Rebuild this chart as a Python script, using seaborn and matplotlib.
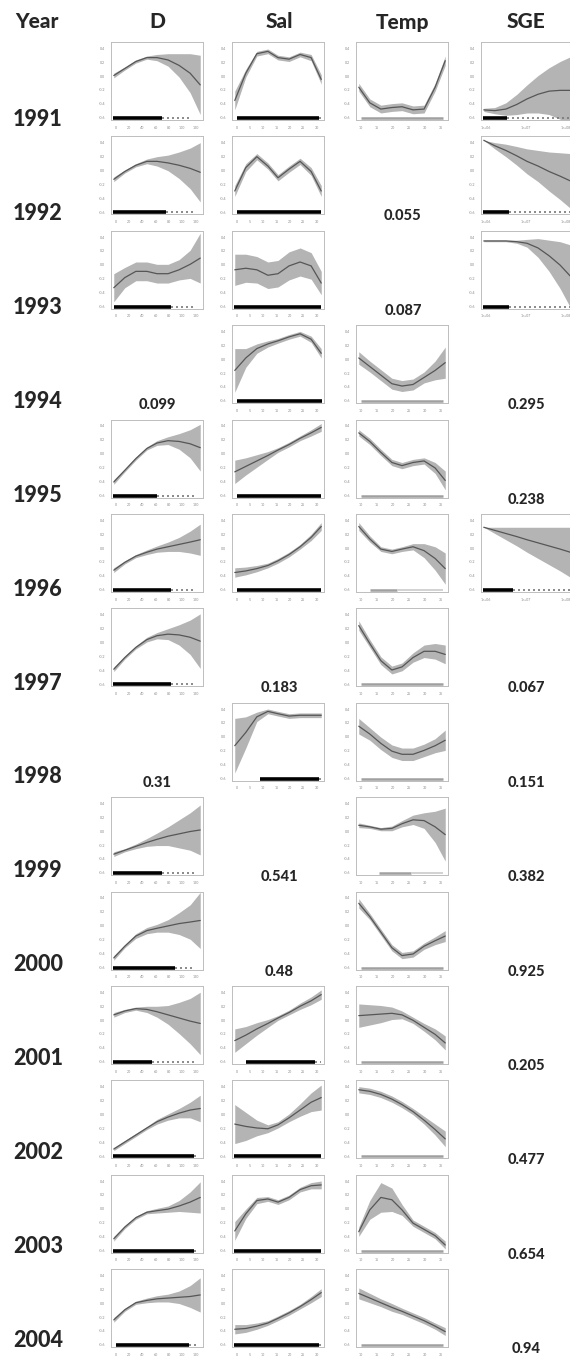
import numpy as np
import pandas as pd
import matplotlib
matplotlib.use("Agg")
import matplotlib.pyplot as plt
import seaborn as sns

# ---------------- data ----------------
YEARS = list(range(1991, 2005))
VARIABLES = ["D", "Sal", "Temp", "SGE"]
X_GRID = [0.03, 0.15, 0.27, 0.39, 0.50, 0.62, 0.74, 0.86, 0.97]

D_FIT = {
    1991: [0.57, 0.66, 0.75, 0.80, 0.80, 0.77, 0.70, 0.60, 0.45],
    1992: [0.45, 0.55, 0.63, 0.68, 0.68, 0.66, 0.63, 0.59, 0.54],
    1993: [0.27, 0.40, 0.48, 0.48, 0.45, 0.45, 0.50, 0.57, 0.65],
    1995: [0.20, 0.35, 0.50, 0.63, 0.70, 0.73, 0.72, 0.69, 0.64],
    1996: [0.28, 0.38, 0.46, 0.51, 0.55, 0.58, 0.61, 0.64, 0.67],
    1997: [0.22, 0.37, 0.50, 0.60, 0.65, 0.67, 0.66, 0.63, 0.58],
    1999: [0.27, 0.32, 0.37, 0.42, 0.46, 0.50, 0.53, 0.56, 0.58],
    2000: [0.15, 0.30, 0.43, 0.50, 0.53, 0.56, 0.59, 0.61, 0.63],
    2001: [0.63, 0.68, 0.71, 0.70, 0.67, 0.63, 0.59, 0.55, 0.52],
    2002: [0.12, 0.21, 0.30, 0.39, 0.47, 0.53, 0.58, 0.62, 0.64],
    2003: [0.18, 0.33, 0.45, 0.52, 0.54, 0.56, 0.60, 0.65, 0.71],
    2004: [0.35, 0.48, 0.57, 0.60, 0.62, 0.63, 0.64, 0.65, 0.67],
}
D_BAND = {
    1991: [0.03, 0.02, 0.02, 0.02, 0.04, 0.08, 0.15, 0.25, 0.38],
    1992: [0.03, 0.02, 0.02, 0.03, 0.06, 0.10, 0.17, 0.26, 0.38],
    1993: [0.18, 0.13, 0.12, 0.12, 0.12, 0.12, 0.13, 0.18, 0.32],
    1995: [0.03, 0.02, 0.02, 0.02, 0.03, 0.05, 0.10, 0.18, 0.30],
    1996: [0.03, 0.02, 0.02, 0.03, 0.04, 0.06, 0.09, 0.14, 0.20],
    1997: [0.03, 0.02, 0.02, 0.03, 0.04, 0.07, 0.13, 0.22, 0.35],
    1999: [0.03, 0.02, 0.03, 0.05, 0.08, 0.12, 0.18, 0.24, 0.32],
    2000: [0.03, 0.02, 0.03, 0.04, 0.05, 0.08, 0.14, 0.22, 0.36],
    2001: [0.03, 0.02, 0.02, 0.04, 0.07, 0.12, 0.20, 0.29, 0.40],
    2002: [0.02, 0.02, 0.02, 0.02, 0.03, 0.04, 0.06, 0.10, 0.17],
    2003: [0.03, 0.02, 0.02, 0.02, 0.03, 0.04, 0.07, 0.13, 0.20],
    2004: [0.03, 0.02, 0.02, 0.03, 0.04, 0.05, 0.08, 0.14, 0.22],
}
D_RUG = {
    1991: (0.02, 0.55, 0.85), 1992: (0.02, 0.60, 0.90), 1993: (0.03, 0.65, 0.90),
    1995: (0.02, 0.50, 0.90), 1996: (0.02, 0.65, 0.90), 1997: (0.02, 0.65, 0.90),
    1999: (0.02, 0.55, 0.90), 2000: (0.02, 0.70, 0.90), 2001: (0.02, 0.45, 0.90),
    2002: (0.02, 0.90, 0.95), 2003: (0.02, 0.90, 0.95), 2004: (0.05, 0.85, 0.95),
}

SAL_FIT = {
    1991: [0.25, 0.60, 0.85, 0.88, 0.80, 0.78, 0.84, 0.80, 0.52],
    1992: [0.30, 0.60, 0.74, 0.62, 0.47, 0.58, 0.68, 0.55, 0.30],
    1993: [0.50, 0.52, 0.50, 0.43, 0.45, 0.55, 0.60, 0.55, 0.33],
    1994: [0.42, 0.58, 0.70, 0.76, 0.80, 0.85, 0.89, 0.82, 0.64],
    1995: [0.33, 0.40, 0.47, 0.54, 0.61, 0.68, 0.76, 0.83, 0.90],
    1996: [0.25, 0.27, 0.30, 0.34, 0.40, 0.48, 0.58, 0.70, 0.84],
    1998: [0.45, 0.62, 0.82, 0.89, 0.86, 0.83, 0.84, 0.84, 0.84],
    2001: [0.30, 0.37, 0.45, 0.52, 0.59, 0.66, 0.74, 0.81, 0.89],
    2002: [0.44, 0.41, 0.39, 0.38, 0.43, 0.52, 0.62, 0.72, 0.78],
    2003: [0.28, 0.50, 0.67, 0.69, 0.65, 0.71, 0.81, 0.86, 0.87],
    2004: [0.23, 0.24, 0.27, 0.31, 0.37, 0.44, 0.52, 0.61, 0.70],
}
SAL_BAND = {
    1991: [0.12, 0.05, 0.03, 0.03, 0.03, 0.03, 0.03, 0.04, 0.06],
    1992: [0.07, 0.05, 0.04, 0.04, 0.04, 0.04, 0.04, 0.05, 0.07],
    1993: [0.20, 0.18, 0.17, 0.17, 0.17, 0.18, 0.18, 0.17, 0.15],
    1994: [0.28, 0.12, 0.06, 0.04, 0.03, 0.03, 0.03, 0.04, 0.06],
    1995: [0.15, 0.11, 0.08, 0.05, 0.03, 0.03, 0.03, 0.04, 0.05],
    1996: [0.06, 0.05, 0.04, 0.03, 0.03, 0.03, 0.03, 0.04, 0.05],
    1998: [0.35, 0.20, 0.06, 0.03, 0.03, 0.03, 0.03, 0.03, 0.03],
    2001: [0.15, 0.11, 0.08, 0.05, 0.03, 0.03, 0.04, 0.05, 0.06],
    2002: [0.25, 0.18, 0.10, 0.05, 0.04, 0.05, 0.08, 0.12, 0.16],
    2003: [0.12, 0.06, 0.04, 0.03, 0.03, 0.03, 0.03, 0.04, 0.05],
    2004: [0.06, 0.05, 0.04, 0.03, 0.03, 0.03, 0.03, 0.04, 0.05],
}
SAL_RUG = {
    1991: (0.05, 0.95, 0.97), 1992: (0.05, 0.97, 0.97), 1993: (0.02, 0.97, 0.97),
    1994: (0.05, 0.98, 0.98), 1995: (0.05, 0.97, 0.97), 1996: (0.05, 0.97, 0.97),
    1998: (0.30, 0.95, 0.97), 2001: (0.15, 0.90, 0.97), 2002: (0.02, 0.97, 0.97),
    2003: (0.02, 0.97, 0.97), 2004: (0.02, 0.95, 0.97),
}

TEMP_FIT = {
    1991: [0.42, 0.22, 0.14, 0.16, 0.17, 0.13, 0.14, 0.42, 0.76],
    1994: [0.58, 0.47, 0.36, 0.25, 0.22, 0.24, 0.33, 0.42, 0.52],
    1995: [0.83, 0.72, 0.58, 0.45, 0.41, 0.45, 0.47, 0.38, 0.22],
    1996: [0.84, 0.68, 0.55, 0.52, 0.55, 0.58, 0.53, 0.43, 0.30],
    1997: [0.78, 0.55, 0.33, 0.21, 0.25, 0.37, 0.45, 0.45, 0.41],
    1998: [0.70, 0.60, 0.48, 0.38, 0.34, 0.34, 0.39, 0.45, 0.52],
    1999: [0.64, 0.62, 0.59, 0.60, 0.66, 0.71, 0.70, 0.62, 0.52],
    2000: [0.85, 0.68, 0.48, 0.28, 0.18, 0.20, 0.30, 0.37, 0.43],
    2001: [0.62, 0.63, 0.64, 0.65, 0.63, 0.56, 0.47, 0.38, 0.27],
    2002: [0.88, 0.86, 0.82, 0.76, 0.69, 0.60, 0.49, 0.37, 0.25],
    2003: [0.27, 0.55, 0.71, 0.68, 0.55, 0.38, 0.30, 0.22, 0.10],
    2004: [0.69, 0.63, 0.57, 0.51, 0.46, 0.40, 0.34, 0.27, 0.20],
}
TEMP_BAND = {
    1991: [0.05, 0.05, 0.05, 0.05, 0.05, 0.05, 0.05, 0.05, 0.06],
    1994: [0.08, 0.07, 0.07, 0.07, 0.07, 0.07, 0.07, 0.12, 0.20],
    1995: [0.04, 0.04, 0.04, 0.04, 0.04, 0.04, 0.04, 0.07, 0.12],
    1996: [0.05, 0.04, 0.03, 0.03, 0.03, 0.04, 0.09, 0.15, 0.20],
    1997: [0.06, 0.05, 0.05, 0.05, 0.05, 0.06, 0.08, 0.10, 0.12],
    1998: [0.10, 0.08, 0.08, 0.08, 0.08, 0.08, 0.08, 0.09, 0.13],
    1999: [0.03, 0.02, 0.02, 0.03, 0.04, 0.06, 0.10, 0.20, 0.34],
    2000: [0.06, 0.04, 0.04, 0.04, 0.04, 0.04, 0.04, 0.05, 0.07],
    2001: [0.15, 0.13, 0.11, 0.08, 0.05, 0.04, 0.05, 0.07, 0.09],
    2002: [0.04, 0.04, 0.04, 0.04, 0.04, 0.04, 0.05, 0.07, 0.10],
    2003: [0.06, 0.12, 0.19, 0.15, 0.07, 0.04, 0.04, 0.04, 0.05],
    2004: [0.07, 0.06, 0.05, 0.05, 0.04, 0.04, 0.04, 0.04, 0.05],
}
TEMP_RUG = {
    1991: (0.05, 0.95, 0.95), 1994: (0.05, 0.95, 0.95), 1995: (0.05, 0.95, 0.95),
    1996: (0.15, 0.45, 0.95), 1997: (0.05, 0.95, 0.95), 1998: (0.05, 0.95, 0.95),
    1999: (0.25, 0.60, 0.95), 2000: (0.05, 0.95, 0.95), 2001: (0.05, 0.95, 0.95),
    2002: (0.05, 0.95, 0.95), 2003: (0.05, 0.95, 0.95), 2004: (0.05, 0.95, 0.95),
}

SGE_FIT = {
    1991: [0.13, 0.12, 0.14, 0.20, 0.27, 0.33, 0.37, 0.38, 0.38],
    1992: [0.95, 0.88, 0.82, 0.75, 0.68, 0.62, 0.55, 0.49, 0.43],
    1993: [0.87, 0.87, 0.87, 0.86, 0.84, 0.78, 0.68, 0.56, 0.42],
    1996: [0.83, 0.79, 0.75, 0.71, 0.67, 0.63, 0.59, 0.55, 0.51],
}
SGE_BAND = {
    1991: [0.02, 0.04, 0.08, 0.13, 0.18, 0.24, 0.30, 0.37, 0.43],
    1992: [0.00, 0.04, 0.08, 0.12, 0.16, 0.20, 0.25, 0.30, 0.35],
    1993: [0.01, 0.01, 0.01, 0.02, 0.05, 0.12, 0.20, 0.30, 0.40],
    1996: [0.00, 0.04, 0.08, 0.12, 0.16, 0.20, 0.24, 0.28, 0.32],
}
SGE_RUG = {1991: (0.02, 0.28, 1.0), 1992: (0.02, 0.30, 1.0),
           1993: (0.02, 0.30, 1.0), 1996: (0.02, 0.35, 1.0)}

P_VALUES = {
    ("Temp", 1992): "0.055", ("Temp", 1993): "0.087",
    ("D", 1994): "0.099", ("SGE", 1994): "0.295",
    ("SGE", 1995): "0.238",
    ("Sal", 1997): "0.183", ("SGE", 1997): "0.067",
    ("D", 1998): "0.31", ("SGE", 1998): "0.151",
    ("Sal", 1999): "0.541", ("SGE", 1999): "0.382",
    ("Sal", 2000): "0.48", ("SGE", 2000): "0.925",
    ("SGE", 2001): "0.205", ("SGE", 2002): "0.477",
    ("SGE", 2003): "0.654", ("SGE", 2004): "0.94",
}

X_TICKLABELS = {
    "D": ["0", "20", "40", "60", "80", "100", "120"],
    "Sal": ["0", "5", "10", "15", "20", "25", "30"],
    "Temp": ["10", "15", "20", "25", "30", "35"],
    "SGE": ["1e+06", "1e+07", "1e+08"],
}
Y_TICKLABELS = ["-0.6", "-0.4", "-0.2", "0.0", "0.2", "0.4"]

FITS = {"D": D_FIT, "Sal": SAL_FIT, "Temp": TEMP_FIT, "SGE": SGE_FIT}
BANDS = {"D": D_BAND, "Sal": SAL_BAND, "Temp": TEMP_BAND, "SGE": SGE_BAND}
RUGS = {"D": D_RUG, "Sal": SAL_RUG, "Temp": TEMP_RUG, "SGE": SGE_RUG}

# ---------------- layout ----------------
W, H = 570, 1362
COL_LEFT = {"D": 111, "Sal": 232, "Temp": 356, "SGE": 481}
COL_CENTER = {"D": 157, "Sal": 279, "Temp": 403, "SGE": 526}
PANEL_W, PANEL_H = 92, 78
ROW0, ROW_STEP = 42, 94.4
YEAR_Y0, YEAR_STEP = 120, 93.85

BAND_COLOR = "#b4b4b4"
LINE_COLOR = "#565656"
FRAME_COLOR = "#bdbdbd"

sns.set_theme(style="white")
plt.rcParams["font.family"] = ["Lato", "DejaVu Sans"]

fig = plt.figure(figsize=(W / 100, H / 100), dpi=100)
fig.patch.set_facecolor("white")


def fx(px):
    return px / W


def fy(py):
    return 1 - py / H


def draw_panel(ax, var, fit, band, rug):
    lo = [f - b for f, b in zip(fit, band)]
    hi = [f + b for f, b in zip(fit, band)]
    ax.fill_between(X_GRID, lo, hi, color=BAND_COLOR, lw=0, zorder=1)
    df = pd.DataFrame({"x": X_GRID, "y": fit})
    sns.lineplot(data=df, x="x", y="y", ax=ax, color=LINE_COLOR, lw=0.9, zorder=2)
    if var == "Temp":
        ax.plot([rug[0], rug[1]], [0.025, 0.025], color="#a0a0a0", lw=1.8,
                solid_capstyle="butt", zorder=3)
        ax.plot([rug[1], rug[2]], [0.025, 0.025], color="#d2d2d2", lw=1.4,
                solid_capstyle="butt", zorder=3)
    else:
        ax.plot([rug[0], rug[1]], [0.025, 0.025], color="black", lw=2.6,
                solid_capstyle="butt", zorder=3)
        if rug[2] > rug[1]:
            ax.plot([rug[1], rug[2]], [0.025, 0.025], color="#777777", lw=1.2,
                    ls=(0, (1.2, 1.8)), zorder=3)
    ax.set_xlim(0, 1)
    ax.set_ylim(0, 1)
    xl = X_TICKLABELS[var]
    ax.set_xticks(np.linspace(0.05, 0.92, len(xl)))
    ax.set_xticklabels(xl)
    ax.set_yticks(np.linspace(0.03, 0.92, len(Y_TICKLABELS)))
    ax.set_yticklabels(Y_TICKLABELS)
    ax.set_xlabel("")
    ax.set_ylabel("")
    ax.tick_params(axis="both", length=1.5, width=0.5, color="#b0b0b0",
                   labelsize=2.6, labelcolor="#8a8a8a", pad=2.5)
    for s in ax.spines.values():
        s.set_color(FRAME_COLOR)
        s.set_linewidth(0.7)
        s.set_linestyle((0, (2, 1)))


# headers
fig.text(fx(37), fy(22), "Year", ha="center", va="center", fontsize=15, fontweight="black")
for v in VARIABLES:
    fig.text(fx(COL_CENTER[v]), fy(22), v, ha="center", va="center",
             fontsize=15, fontweight="black")

for i, yr in enumerate(YEARS):
    top = ROW0 + i * ROW_STEP
    fig.text(fx(38), fy(YEAR_Y0 + i * YEAR_STEP), str(yr), ha="center", va="center",
             fontsize=15.5, fontweight="black")
    for v in VARIABLES:
        if yr in FITS[v]:
            ax = fig.add_axes([fx(COL_LEFT[v]), fy(top + PANEL_H), PANEL_W / W, PANEL_H / H])
            draw_panel(ax, v, FITS[v][yr], BANDS[v][yr], RUGS[v][yr])
        elif (v, yr) in P_VALUES:
            fig.text(fx(COL_CENTER[v]), fy(top + 80), P_VALUES[(v, yr)],
                     ha="center", va="center", fontsize=10.5, fontweight="black")

fig.savefig("out.png", dpi=100, facecolor="white")
